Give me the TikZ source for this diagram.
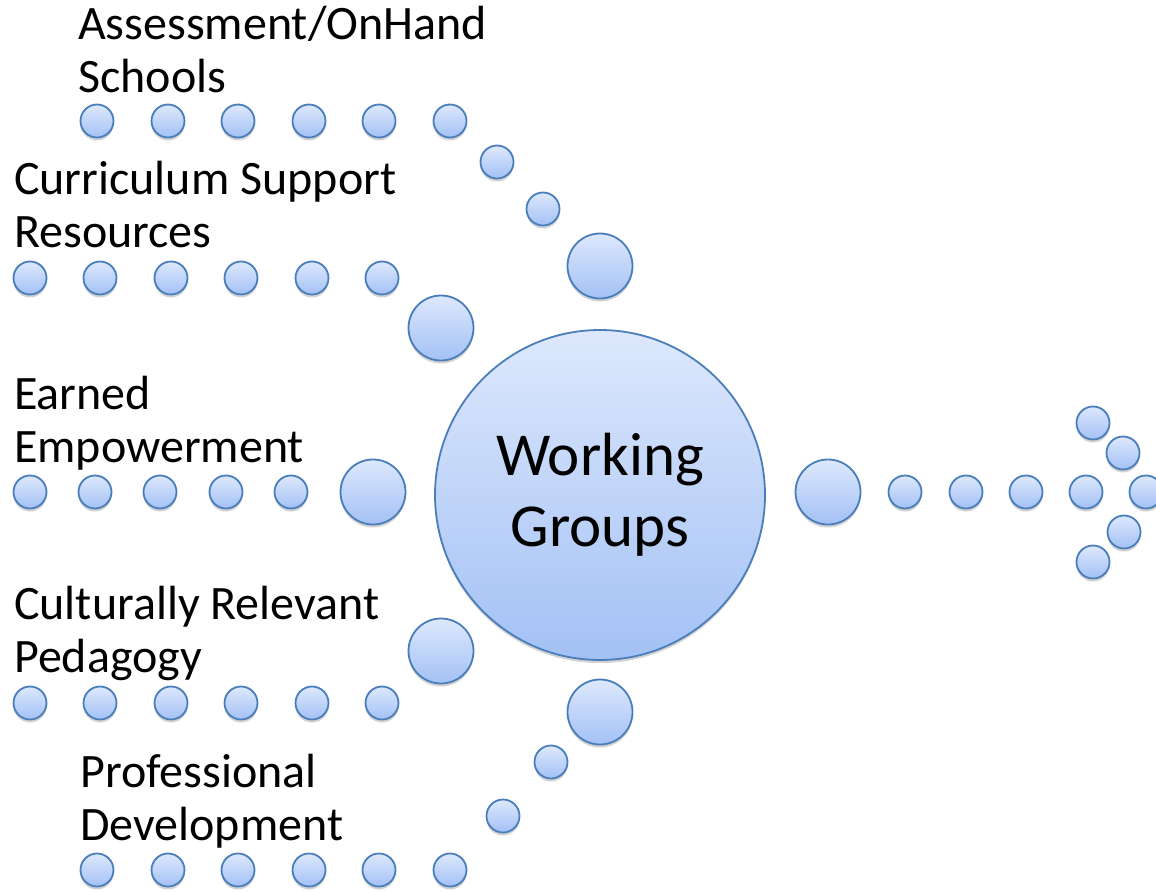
\documentclass[tikz,border=0pt]{standalone}
\usepackage{fontspec}
\setmainfont{Carlito}
\usetikzlibrary{shadows}
\definecolor{topc}{RGB}{221,232,252}
\definecolor{botc}{RGB}{163,193,245}
\definecolor{edgec}{RGB}{74,126,187}
\begin{document}
\begin{tikzpicture}[x=1pt,y=-1pt,
  bub/.style={circle,draw=edgec,line width=1.8pt,top color=topc,bottom color=botc,inner sep=0pt,
    drop shadow={shadow xshift=0pt,shadow yshift=-3pt,opacity=0.25,fill=black!70}},
  sm/.style={bub,minimum size=33pt},
  bg/.style={bub,minimum size=65pt},
  lbl/.style={anchor=base west,inner sep=0pt,align=left,font=\fontsize{48}{53}\selectfont}
]
\useasboundingbox (0,0) rectangle (1156,893);
% main
\node[bub,minimum size=330pt,font=\fontsize{61}{71}\selectfont,align=center] (main) at (600,495) {Working\\Groups};
% row 1 Assessment
\foreach \x [count=\i] in {97,168,238,309,379,450} \node[sm] (a\i) at (\x,121) {};
\node[sm] (a7) at (497,162) {};
\node[sm] (a8) at (543,209) {};
\node[bg] (a9) at (600,266) {};
% row 2 Curriculum
\foreach \x [count=\i] in {30,100,171,241,312,382} \node[sm] (c\i) at (\x,278) {};
\node[bg] (c7) at (441,328) {};
% row 3 Earned
\foreach \x [count=\i] in {30,95,160,226,291} \node[sm] (e\i) at (\x,492) {};
\node[bg] (e6) at (373,492) {};
% row 4 Culturally
\foreach \x [count=\i] in {30,100,171,241,312,382} \node[sm] (r\i) at (\x,703) {};
\node[bg] (r7) at (441,651) {};
% row 5 Professional
\foreach \x [count=\i] in {97,168,238,309,379,450} \node[sm] (p\i) at (\x,870) {};
\node[sm] (p7) at (503,816) {};
\node[sm] (p8) at (551,762) {};
\node[bg] (p9) at (600,712) {};
% right arrow
\node[bg] (o1) at (828,492) {};
\foreach \x [count=\i from 2] in {905,966,1026,1086} \node[sm] (o\i) at (\x,492) {};
\node[sm] (h1) at (1093,423) {};
\node[sm] (h2) at (1123,453) {};
\node[sm] (h3) at (1146,492) {};
\node[sm] (h4) at (1124,532) {};
\node[sm] (h5) at (1093,562) {};
% labels (anchor = baseline of last line)
\node[lbl] (t1) at (78,93) {Assessment/OnHand\\Schools};
\node[lbl] (t2) at (14,248) {Curriculum Support\\Resources};
\node[lbl] (t3) at (14,462) {Earned\\Empowerment};
\node[lbl] (t4) at (14,672) {Culturally Relevant\\Pedagogy};
\node[lbl] (t5) at (80,840) {Professional\\Development};
\end{tikzpicture}
\end{document}
